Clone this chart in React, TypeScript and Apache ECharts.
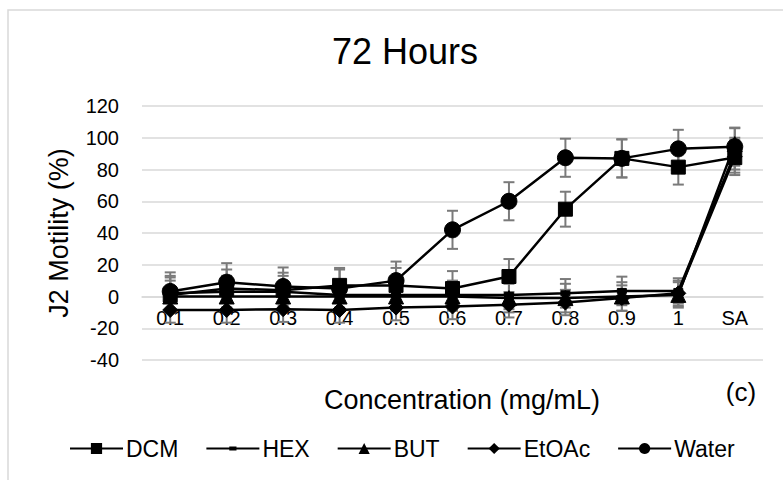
import React, { useEffect, useRef } from "react";
import * as echarts from "echarts";

const categories = ["0.1", "0.2", "0.3", "0.4", "0.5", "0.6", "0.7", "0.8", "0.9", "1", "SA"];
const seriesNames = ["DCM", "HEX", "BUT", "EtOAc", "Water"];
const dcm = [1, 5, 4, 7, 7, 5, 12.6, 55, 87, 81.5, 87.5];
const hex = [2, 3, 3, 1, 1, 1, 1, 2, 3.5, 3.5, 90];
const but = [0, 0, 0, 0, 0, 0, -1, -1, 0, 1, 96];
const etoac = [-8.5, -8.5, -8, -8.5, -7, -6.3, -5.2, -3.8, -1, 2, 88];
const water = [3.2, 9, 6.3, 5, 10, 42, 60, 87.4, 87, 93, 94.4];
const dcmErr = [11, 12, 11, 11, 11, 11, 11, 11, 12, 11, 11];
const hexErr = [11, 10, 10, 9, 9, 9, 9, 9, 9, 8, 10];
const butErr = [10, 9, 9, 9, 9, 9, 9, 9, 9, 8, 10];
const etoacErr = [8, 8, 8, 8, 8, 8, 8, 8, 8, 8, 10];
const waterErr = [12, 12, 12, 12, 12, 12, 12, 12, 12, 12, 12];
const yTicks = { min: -40, max: 120, interval: 20 };

const FONT = "Liberation Sans, Arial, sans-serif";
const HEX_SYMBOL = "path://M0,0M14,14M2.5,4.5h9v5h-9z";

export default function App() {
  const ref = useRef<HTMLDivElement>(null);
  useEffect(() => {
    if (!ref.current) return;
    const chart = echarts.init(ref.current, undefined, { renderer: "svg" });
    const values = [dcm, hex, but, etoac, water];
    const errs = [dcmErr, hexErr, butErr, etoacErr, waterErr];
    const symbols = ["rect", HEX_SYMBOL, "triangle", "diamond", "circle"];
    const sizes: any[] = [14, 14, 15, 15, 16];

    const gridTop = 106;
    const gridBottom = 360;
    const zeroY =
      gridTop + ((yTicks.max - 0) / (yTicks.max - yTicks.min)) * (gridBottom - gridTop);
    const xOffset = -(gridBottom - zeroY);

    const errorSeries = values.map((vals, si) => ({
      type: "custom",
      name: seriesNames[si] + " error",
      z: 1,
      silent: true,
      encode: { x: 0, y: [1, 2] },
      data: vals.map((v, i) => [i, v - errs[si][i], v + errs[si][i]]),
      renderItem: (params: any, api: any) => {
        const x = api.value(0);
        const lo = api.coord([x, api.value(1)]);
        const hi = api.coord([x, api.value(2)]);
        const cap = 5.5;
        const style = { stroke: "#7a7a7a", lineWidth: 2 };
        return {
          type: "group",
          children: [
            { type: "line", shape: { x1: lo[0], y1: lo[1], x2: hi[0], y2: hi[1] }, style },
            { type: "line", shape: { x1: hi[0] - cap, y1: hi[1], x2: hi[0] + cap, y2: hi[1] }, style },
            { type: "line", shape: { x1: lo[0] - cap, y1: lo[1], x2: lo[0] + cap, y2: lo[1] }, style },
          ],
        };
      },
    }));

    const lineSeries = values.map((vals, si) => ({
      type: "line",
      name: seriesNames[si],
      data: vals,
      z: 3 + si,
      symbol: symbols[si],
      symbolSize: sizes[si],
      showAllSymbol: true,
      lineStyle: { color: "#000", width: 2.5 },
      itemStyle: { color: "#000", borderColor: "#000" },
    }));

    chart.setOption({
      animation: false,
      backgroundColor: "#fff",
      title: {
        text: "72 Hours",
        left: 400,
        top: 28,
        textAlign: "center",
        textStyle: { fontFamily: FONT, fontSize: 36, fontWeight: "normal", color: "#000" },
      },
      legend: {
        data: seriesNames,
        left: 64,
        top: 432,
        itemWidth: 53,
        itemHeight: 14,
        itemGap: 27,
        textStyle: { fontFamily: FONT, fontSize: 23, color: "#000", padding: [0, 0, 0, -2] },
      },
      grid: { left: 142, right: 20, top: gridTop, bottom: 480 - gridBottom, containLabel: false },
      xAxis: {
        type: "category",
        data: categories,
        boundaryGap: true,
        position: "bottom",
        offset: xOffset,
        axisLine: { onZero: false, lineStyle: { color: "#d9d9d9", width: 1.5 } },
        axisTick: { show: false },
        axisLabel: { fontFamily: FONT, fontSize: 20, color: "#000", margin: 11 },
        splitLine: { show: false },
      },
      yAxis: {
        type: "value",
        min: yTicks.min,
        max: yTicks.max,
        interval: yTicks.interval,
        name: "J2 Motility (%)",
        nameLocation: "middle",
        nameGap: 70,
        nameTextStyle: { fontFamily: FONT, fontSize: 27, color: "#000" },
        axisLine: { show: false },
        axisTick: { show: false },
        axisLabel: { fontFamily: FONT, fontSize: 20, color: "#000", margin: 23 },
        splitLine: { lineStyle: { color: "#d9d9d9", width: 1.5 } },
      },
      graphic: [
        {
          type: "rect",
          shape: { x: 8, y: 10, width: 820, height: 520 },
          style: { fill: "none", stroke: "#d9d9d9", lineWidth: 1.5 },
          z: -10,
          silent: true,
        },
        {
          type: "text",
          x: 462,
          y: 400,
          style: {
            text: "Concentration (mg/mL)",
            fontFamily: FONT,
            fontSize: 27,
            fill: "#000",
            textAlign: "center",
            textVerticalAlign: "middle",
          },
        },
        {
          type: "text",
          x: 741,
          y: 392,
          style: {
            text: "(c)",
            fontFamily: FONT,
            fontSize: 26,
            fill: "#000",
            textAlign: "center",
            textVerticalAlign: "middle",
          },
        },
      ],
      series: [...errorSeries, ...lineSeries],
    });
    return () => chart.dispose();
  }, []);
  return (
    <div
      ref={ref}
      style={{ position: "fixed", left: 0, top: 0, width: 783, height: 480, background: "#fff" }}
    />
  );
}
